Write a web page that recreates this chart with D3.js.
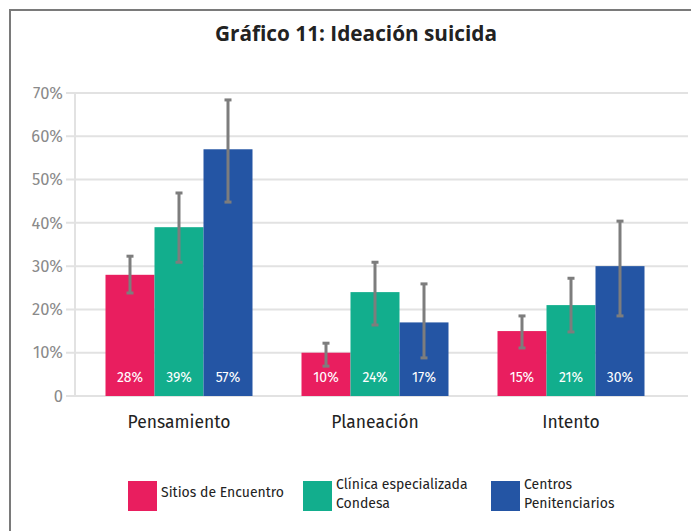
<!DOCTYPE html>
<html><head><meta charset="utf-8">
<script src="https://cdn.jsdelivr.net/npm/d3@7"></script>
<style>
html,body{margin:0;padding:0;background:#fff;}
svg{display:block;}
</style></head>
<body>
<svg id="chart" width="691" height="531"></svg>
<script>
const categories = ["Pensamiento", "Planeación", "Intento"];
const seriesNames = ["Sitios de Encuentro", "Clínica especializada Condesa", "Centros Penitenciarios"];
const legendLines = [["Sitios de Encuentro"], ["Clínica especializada", "Condesa"], ["Centros", "Penitenciarios"]];
const colors = ["#e91e5f", "#12ae8d", "#2455a4"];
const sitiosValues = [28, 10, 15];
const clinicaValues = [39, 24, 21];
const centrosValues = [57, 17, 30];
const sitiosLow = [23.8, 6.9, 11.1];
const sitiosHigh = [32.3, 12.2, 18.5];
const clinicaLow = [30.9, 16.4, 14.8];
const clinicaHigh = [46.9, 30.9, 27.2];
const centrosLow = [44.8, 8.8, 18.5];
const centrosHigh = [68.4, 25.9, 40.4];
const yTicks = [0, 10, 20, 30, 40, 50, 60, 70];
const yTickLabels = ["0", "10%", "20%", "30%", "40%", "50%", "60%", "70%"];

const allValues = [sitiosValues, clinicaValues, centrosValues];
const allLow = [sitiosLow, clinicaLow, centrosLow];
const allHigh = [sitiosHigh, clinicaHigh, centrosHigh];

const svg = d3.select("#chart");
const font = "'Fira Sans','Open Sans','Noto Sans',sans-serif";

// frame
svg.append("path").attr("d", "M10,531 V10 H691").attr("fill", "none").attr("stroke", "#7a7a7a").attr("stroke-width", 2);

// title
svg.append("text").attr("x", 356).attr("y", 41).attr("text-anchor", "middle")
  .attr("font-family", "'Open Sans','Noto Sans',sans-serif")
  .attr("font-weight", "bold").attr("font-size", 22).attr("fill", "#222")
  .attr("textLength", 282).attr("lengthAdjust", "spacingAndGlyphs")
  .text("Gráfico 11: Ideación suicida");

const y = d3.scaleLinear().domain([0, 70]).range([396, 93]);
const x0 = d3.scaleBand().domain(categories).range([81, 669]).paddingInner(0.25).paddingOuter(0.125);
const x1 = d3.scaleBand().domain(d3.range(3)).range([0, x0.bandwidth()]);

// gridlines
svg.append("g").selectAll("line").data(yTicks).join("line")
  .attr("x1", 66).attr("x2", 688)
  .attr("y1", d => y(d)).attr("y2", d => y(d))
  .attr("stroke", "#e2e2e2").attr("stroke-width", 2);
// y axis line
svg.append("line").attr("x1", 75).attr("x2", 75).attr("y1", y(70)).attr("y2", y(0) + 1)
  .attr("stroke", "#e2e2e2").attr("stroke-width", 2);

// y labels
svg.append("g").selectAll("text").data(yTicks).join("text")
  .attr("x", 63).attr("y", d => y(d)).attr("dy", "0.35em")
  .attr("text-anchor", "end").attr("font-family", font).attr("font-size", 16.5)
  .attr("fill", "#8a8a8a").text((d, i) => yTickLabels[i]);

// bars
const groups = svg.append("g").selectAll("g").data(categories).join("g")
  .attr("transform", c => `translate(${x0(c)},0)`);

groups.each(function(c, ci) {
  const g = d3.select(this);
  for (let s = 0; s < 3; s++) {
    const v = allValues[s][ci];
    g.append("rect").attr("x", x1(s)).attr("width", x1.bandwidth())
      .attr("y", y(v)).attr("height", y(0) - y(v)).attr("fill", colors[s]);
    g.append("text").attr("x", x1(s) + x1.bandwidth() / 2).attr("y", 382)
      .attr("text-anchor", "middle").attr("font-family", font).attr("font-size", 14)
      .attr("fill", "#fff").text(v + "%");
    const cx = x1(s) + x1.bandwidth() / 2;
    const lo = allLow[s][ci], hi = allHigh[s][ci];
    g.append("line").attr("x1", cx).attr("x2", cx).attr("y1", y(hi)).attr("y2", y(lo))
      .attr("stroke", "#7d7d7d").attr("stroke-width", 3);
    [lo, hi].forEach(e => g.append("line").attr("x1", cx - 3.5).attr("x2", cx + 3.5)
      .attr("y1", y(e)).attr("y2", y(e)).attr("stroke", "#7d7d7d").attr("stroke-width", 3));
  }
  g.append("text").attr("x", x0.bandwidth() / 2).attr("y", 428).attr("text-anchor", "middle")
    .attr("font-family", font).attr("font-size", 17.5).attr("fill", "#222").text(c);
});

// legend
const legendX = [128, 303, 491];
const leg = svg.append("g");
seriesNames.forEach((n, i) => {
  leg.append("rect").attr("x", legendX[i]).attr("y", 481).attr("width", 29).attr("height", 30).attr("fill", colors[i]);
  const lines = legendLines[i];
  const t = leg.append("text").attr("font-family", font).attr("font-size", 14).attr("fill", "#222");
  lines.forEach((l, j) => {
    t.append("tspan").attr("x", legendX[i] + 33)
      .attr("y", lines.length === 1 ? 497 : 489 + j * 19).text(l);
  });
});
</script>
</body></html>
